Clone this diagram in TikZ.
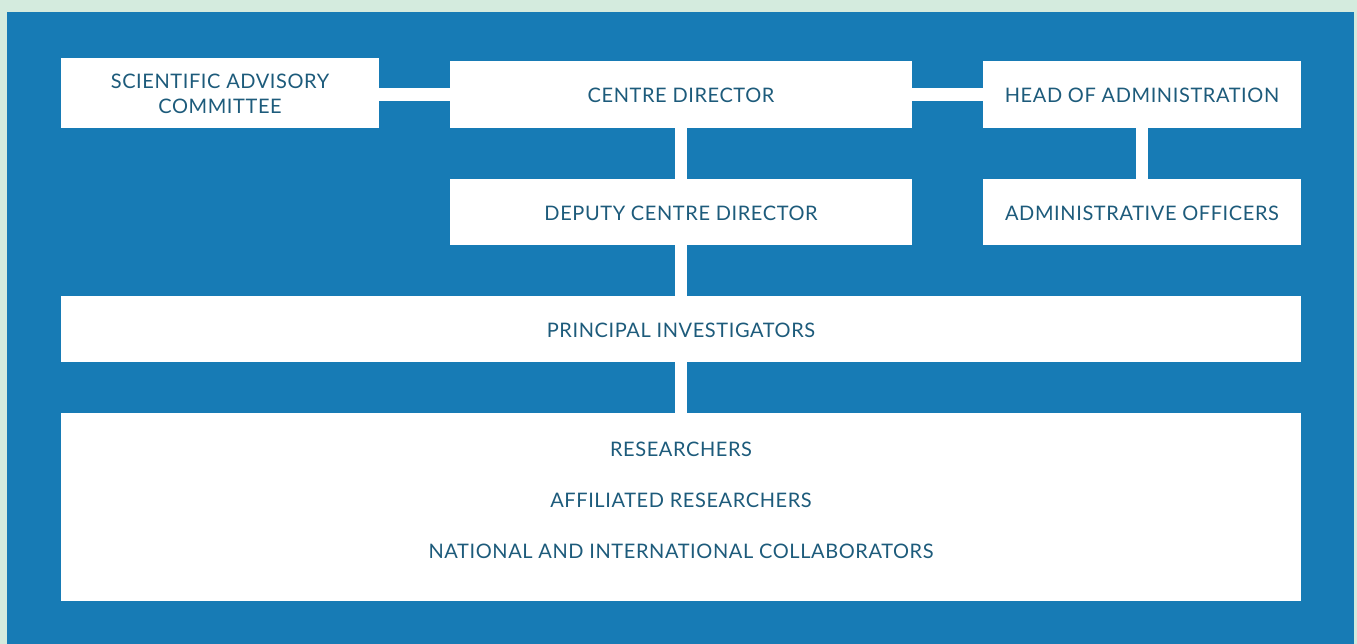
\documentclass[tikz,border=0pt]{standalone}
\usepackage{fontspec}
\setmainfont{Lato}[LetterSpace=3]
\definecolor{bgg}{HTML}{D4EBDE}
\definecolor{panel}{HTML}{177BB5}
\definecolor{txt}{HTML}{1D5B7B}
\newcommand{\lowerby}[2]{\raisebox{-#1}[\height][\depth]{#2}}
\begin{document}
\begin{tikzpicture}[x=1pt,y=-1pt,
  lbl/.style={text=txt,font=\fontsize{20}{25}\selectfont,inner sep=0pt,align=center},
  box/.style={lbl,fill=white,draw=none}]
\useasboundingbox (0,0) rectangle (1357,644);
\fill[bgg] (0,0) rectangle (1357,644);
\fill[panel] (7,12) rectangle (1354,644);
\node[box,minimum width=318pt,minimum height=70pt] (sac) at (220,93) {\lowerby{3pt}{\begin{tabular}{@{}c@{}}SCIENTIFIC ADVISORY\\[-0.5pt]COMMITTEE\end{tabular}}};
\node[box,minimum width=462pt,minimum height=67pt] (cd) at (681,94.5) {\lowerby{1pt}{CENTRE DIRECTOR}};
\node[box,minimum width=318pt,minimum height=67pt] (hoa) at (1142,94.5) {\lowerby{1pt}{HEAD OF ADMINISTRATION}};
\node[box,minimum width=462pt,minimum height=66pt] (dcd) at (681,212) {\lowerby{1pt}{DEPUTY CENTRE DIRECTOR}};
\node[box,minimum width=318pt,minimum height=66pt] (ao) at (1142,212) {\lowerby{1pt}{ADMINISTRATIVE OFFICERS}};
\node[box,minimum width=1240pt,minimum height=66pt] (pi) at (681,329) {\lowerby{1pt}{PRINCIPAL INVESTIGATORS}};
\node[box,minimum width=1240pt,minimum height=188pt] (res) at (681,507) {};
\node[lbl] (r1) at (681,449.5) {RESEARCHERS};
\node[lbl] (r2) at (681,500.5) {AFFILIATED RESEARCHERS};
\node[lbl] (r3) at (681,551.5) {NATIONAL AND INTERNATIONAL COLLABORATORS};
\fill[white] (sac.east |- 0,88) rectangle (cd.west |- 0,101);
\fill[white] (cd.east |- 0,88) rectangle (hoa.west |- 0,101);
\fill[white] (675,0 |- cd.south) rectangle (687,0 |- dcd.north);
\fill[white] (1136,0 |- hoa.south) rectangle (1148,0 |- ao.north);
\fill[white] (675,0 |- dcd.south) rectangle (687,0 |- pi.north);
\fill[white] (675,0 |- pi.south) rectangle (687,0 |- res.north);
\end{tikzpicture}
\end{document}
